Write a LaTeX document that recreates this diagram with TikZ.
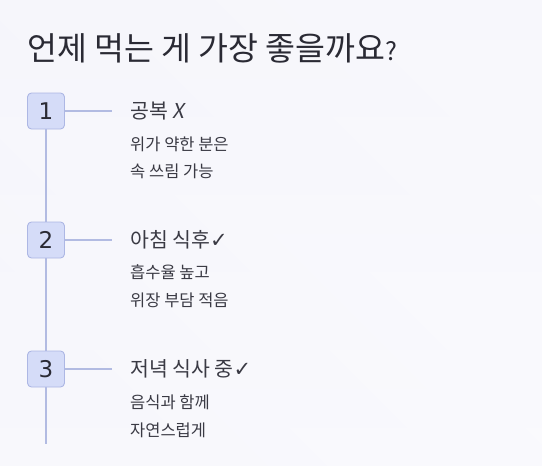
\documentclass[tikz,border=0pt]{standalone}
\usepackage{fontspec}
\setmainfont{Noto Sans CJK KR}
\newfontfamily\kr{Noto Sans CJK KR}
\newfontfamily\krslant[FakeSlant=0.18]{Noto Sans CJK KR}
\newfontfamily\sym{DejaVu Sans}
\newfontfamily\num{DejaVu Sans}
\definecolor{bgA}{HTML}{F5F5FB}
\definecolor{bgB}{HTML}{FBFBFE}
\definecolor{boxfill}{HTML}{D5DCF8}
\definecolor{boxline}{HTML}{ADB7E4}
\definecolor{linec}{HTML}{B2BBE2}
\definecolor{txt}{HTML}{2A2A34}
\definecolor{txt2}{HTML}{3A3A44}
\begin{document}
\begin{tikzpicture}[x=1pt,y=-1pt,
  stepbox/.style={draw=boxline,fill=boxfill,rounded corners=4pt,line width=0.9pt,
    minimum width=37pt,minimum height=36pt,inner sep=0pt,font=\num\fontsize{23}{23}\selectfont,text=txt},
  conn/.style={draw=linec,line width=2pt},
  head/.style={anchor=west,inner sep=0pt,font=\kr\fontsize{20.5}{20.5}\selectfont,text=txt2},
  sub/.style={anchor=west,inner sep=0pt,font=\kr\fontsize{16.5}{16.5}\selectfont,text=txt2},
  title/.style={anchor=west,inner sep=0pt,font=\kr\fontsize{32.5}{32.5}\selectfont,text=txt}]
\useasboundingbox (0,0) rectangle (542,466);
\shade[left color=bgA,right color=bgB,shading angle=135] (0,0) rectangle (542,466);
\shade[top color=bgA,bottom color=bgB,opacity=0.5] (0,0) rectangle (542,466);

\node[title] (t) at (27,48) {언제 먹는 게 가장 좋을까요{\fontsize{25}{25}\selectfont ?}};

\coordinate (end) at (46,444);
\coordinate (h1) at (112,111);
\coordinate (h2) at (112,240);
\coordinate (h3) at (112,369);

\path (46,111) coordinate (c1) (46,240) coordinate (c2) (46,369) coordinate (c3);
\draw[conn] (c1) -- (end);
\node[stepbox] (b1) at (c1) {1};
\node[stepbox] (b2) at (c2) {2};
\node[stepbox] (b3) at (c3) {3};
\draw[conn] (b1.east) -- (h1);
\draw[conn] (b2.east) -- (h2);
\draw[conn] (b3.east) -- (h3);

\node[head] (g1) at (130,111) {공복 {\krslant X}};
\node[sub] (s1a) at (130,144) {위가 약한 분은};
\node[sub] (s1b) at (130,171) {속 쓰림 가능};

\node[head] (g2) at (130,240) {아침 식후{\sym\fontsize{21}{21}\selectfont ✓}};
\node[sub] (s2a) at (130,272) {흡수율 높고};
\node[sub] (s2b) at (130,300) {위장 부담 적음};

\node[head] (g3) at (130,369) {저녁 식사 중{\sym\fontsize{21}{21}\selectfont ✓}};
\node[sub] (s3a) at (130,402) {음식과 함께};
\node[sub] (s3b) at (130,430) {자연스럽게};
\end{tikzpicture}
\end{document}
